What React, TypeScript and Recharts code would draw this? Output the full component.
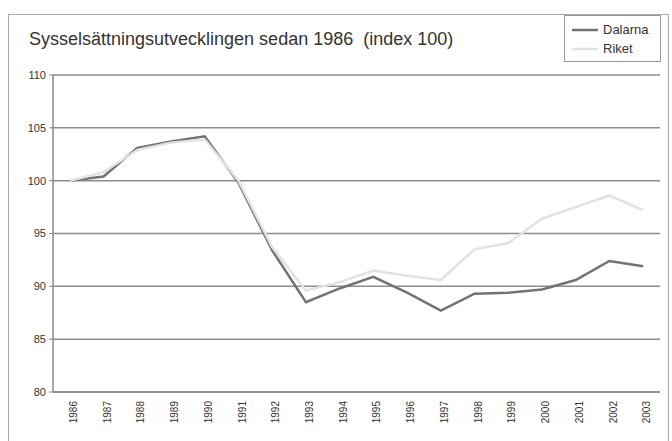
import { LineChart, Line, XAxis, YAxis, CartesianGrid, Legend } from 'recharts'

const years = ['1986', '1987', '1988', '1989', '1990', '1991', '1992', '1993', '1994',
  '1995', '1996', '1997', '1998', '1999', '2000', '2001', '2002', '2003']
const dalarna = [100, 100.4, 103.1, 103.7, 104.2, 99.8, 93.4, 88.5, 89.8,
  90.9, 89.4, 87.7, 89.3, 89.4, 89.7, 90.6, 92.4, 91.9]
const riket = [100, 100.8, 102.9, 103.6, 103.9, 100, 93.7, 89.6, 90.4,
  91.5, 91.0, 90.6, 93.5, 94.1, 96.4, 97.5, 98.6, 97.2]
const yTicks = [80, 85, 90, 95, 100, 105, 110]
const boundaryTicks = [0, 1, 2, 3, 4, 5, 6, 7, 8, 9, 10, 11, 12, 13, 14, 15, 16, 17, 18]

const data = years.map((y, i) => ({ year: y, Dalarna: dalarna[i], Riket: riket[i] }))

const font = '"Liberation Sans", Arial, sans-serif'
const W = 672
const H = 441
const plotLeft = 53
const plotRight = 660
const band = (plotRight - plotLeft) / years.length

// legend box drawn like the old spreadsheet one: short line + name, stacked
function LegendBox(props: any) {
  const items = props.payload || []
  return (
    <div style={{
      width: 97, height: 47, border: '1px solid #999', background: '#fff', boxSizing: 'border-box',
      padding: '4px 0 0 7px', fontFamily: font, fontSize: 13, color: '#333',
    }}>
      {items.map((it: any) => (
        <div key={it.value} style={{ display: 'flex', alignItems: 'center', height: 19 }}>
          <svg width={26} height={4} style={{ marginRight: 5 }}>
            <line x1={0} y1={2} x2={26} y2={2} stroke={it.color} strokeWidth={2.5} />
          </svg>
          <span>{it.value}</span>
        </div>
      ))}
    </div>
  )
}

export default function App() {
  return (
    <div style={{ position: 'absolute', left: 0, top: 0, width: W, height: H, background: '#fff', fontFamily: font }}>
      <div style={{
        position: 'absolute', left: 8, top: 14, width: 661, height: 430,
        border: '1px solid #aaa', boxSizing: 'border-box',
      }} />
      <div style={{ position: 'absolute', left: 29, top: 29, fontSize: 18, color: '#333', whiteSpace: 'pre' }}>
        Sysselsättningsutvecklingen sedan 1986  (index 100)
      </div>
      <LineChart width={W} height={H} data={data}
        margin={{ top: 75, right: W - plotRight, bottom: 4, left: 8 }}>
        <CartesianGrid vertical={false} stroke="#8c8c8c" strokeWidth={1.5} />
        <XAxis xAxisId="ticks" type="number" domain={[0, 18]} ticks={boundaryTicks}
          height={0} tick={false} tickSize={4} axisLine={false} stroke="#888" />
        <XAxis dataKey="year" height={45} interval={0}
          padding={{ left: band / 2, right: band / 2 }}
          axisLine={{ stroke: '#888', strokeWidth: 1.5 }} tickLine={false}
          angle={-90} textAnchor="end" tickMargin={6}
          tick={{ fontSize: 10, fill: '#333', fontFamily: font, dy: -3 }} />
        <YAxis width={45} domain={[80, 110]} ticks={yTicks} interval={0}
          axisLine={{ stroke: '#888', strokeWidth: 1.5 }} tickLine={{ stroke: '#888' }}
          tickSize={4} tickMargin={3}
          tick={{ fontSize: 11, fill: '#333', fontFamily: font }} />
        <Legend layout="vertical" align="center" verticalAlign="middle" content={LegendBox}
          wrapperStyle={{ position: 'absolute', left: 564, top: 15, width: 97, height: 47 }} />
        <Line dataKey="Dalarna" stroke="#727272" strokeWidth={2.5} dot={false} isAnimationActive={false} />
        <Line dataKey="Riket" stroke="#e2e2e2" strokeWidth={2.5} dot={false} isAnimationActive={false} />
      </LineChart>
    </div>
  )
}
